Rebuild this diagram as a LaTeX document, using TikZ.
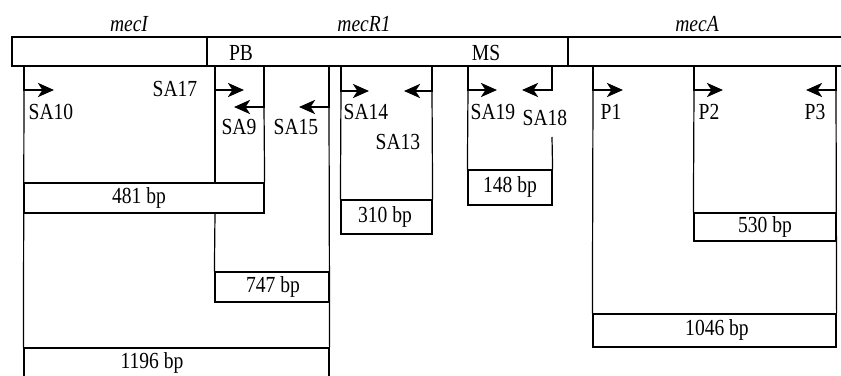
\documentclass[tikz,border=0pt]{standalone}
\usepackage{fontspec}
\setmainfont{Liberation Serif}[FakeStretch=0.85]
\usetikzlibrary{arrows.meta,fit}

\begin{document}
\begin{tikzpicture}[
  x=0.5pt, y=-0.5pt,
  font=\fontsize{11.5}{13}\selectfont,
  thin line/.style={draw,line width=0.6pt},
  site/.style={draw,line width=1.3pt,-{Stealth[length=8pt,width=7pt,inset=2.2pt]}},
  gene/.style={font=\fontsize{11.5}{13}\selectfont\itshape,inner sep=1pt},
  lab/.style={inner sep=1pt},
  bpbox/.style={draw,line width=0.6pt,inner sep=0pt},
]
\clip (0,0) rectangle (841,375);

% ---------- gene bar ----------
\node[draw,line width=0.6pt,inner sep=0pt,fit={(12,37)(207,66)}] (mecI) {};
\node[draw,line width=0.6pt,inner sep=0pt,fit={(207,37)(568,66)}] (mecR) {};
\node[draw,line width=0.6pt,inner sep=0pt,fit={(568,37)(860,66)}] (mecA) {};

\node[gene] (tI) at (129,24) {mecI};
\node[gene] (tR) at (364,24) {mecR1};
\node[gene] (tA) at (697,24) {mecA};
\node[lab]  (pb) at (241,53) {PB};
\node[lab]  (ms) at (486,53) {MS};

% ---------- product boxes ----------
\node[bpbox,fit={(24,183)(264,213)}]  (b481)  {};
\node[bpbox,fit={(215,272)(329,302)}] (b747)  {};
\node[bpbox,fit={(24,348)(329,385)}]  (b1196) {};
\node[bpbox,fit={(341,200)(432,234)}] (b310)  {};
\node[bpbox,fit={(468,170)(552,205)}] (b148)  {};
\node[bpbox,fit={(694,213)(836,241)}] (b530)  {};
\node[bpbox,fit={(593,314)(836,347)}] (b1046) {};

\node[lab] at (139,198) {481 bp};
\node[lab] at (273,287) {747 bp};
\node[lab] at (152,363) {1196 bp};
\node[lab] at (385,217) {310 bp};
\node[lab] at (510,187) {148 bp};
\node[lab] at (765,227) {530 bp};
\node[lab] at (717,330) {1046 bp};

% ---------- primer sites ----------
\coordinate (sa10) at (24,66);   \coordinate (sa10a) at (54,90);
\coordinate (sa17) at (215,66);  \coordinate (sa17a) at (244,90);
\coordinate (sa9)  at (264,66);  \coordinate (sa9a)  at (234,107);
\coordinate (sa15) at (329,66);  \coordinate (sa15a) at (299,107);
\coordinate (sa14) at (341,66);  \coordinate (sa14a) at (369,91);
\coordinate (sa13) at (432,66);  \coordinate (sa13a) at (404,91);
\coordinate (sa19) at (468,66);  \coordinate (sa19a) at (497,90);
\coordinate (sa18) at (552,66);  \coordinate (sa18a) at (522,90);
\coordinate (p1)   at (593,66);  \coordinate (p1a)   at (623,90);
\coordinate (p2)   at (694,66);  \coordinate (p2a)   at (723,90);
\coordinate (p3)   at (836,66);  \coordinate (p3a)   at (806,90);

\foreach \s in {sa10,sa17,sa9,sa15,sa14,sa13,sa19,sa18,p1,p2,p3}
  \draw[site] (\s) |- (\s a);

% thin lines down to the boxes
\draw[thin line] (sa10 |- sa10a) -- (b1196.north west);
\draw[thin line] (sa17 |- sa17a) -- (sa17 |- b481.north);
\draw[thin line] (sa17 |- b481.south) -- (b747.north west);
\draw[thin line] (sa9 |- sa9a) -- (b481.north east);
\draw[thin line] (sa15 |- sa15a) -- (b1196.north east);
\draw[thin line] (sa14 |- sa14a) -- (b310.north west);
\draw[thin line] (sa13 |- sa13a) -- (b310.north east);
\draw[thin line] (sa19 |- sa19a) -- (b148.north west);
\draw[thin line] (552,137) -- (b148.north east);
\draw[thin line] (p1 |- p1a) -- (b1046.north west);
\draw[thin line] (p2 |- p2a) -- (b530.north west);
\draw[thin line] (p3 |- p3a) -- (b1046.north east);

% ---------- site labels ----------
\node[lab] (l10) at (51,112)  {SA10};
\node[lab] (l17) at (175,89)  {SA17};
\node[lab] (l9)  at (239,127) {SA9};
\node[lab] (l15) at (296,127) {SA15};
\node[lab] (l14) at (366,112) {SA14};
\node[lab] (l13) at (398,142) {SA13};
\node[lab] (l19) at (493,112) {SA19};
\node[lab] (l18) at (545,118) {SA18};
\node[lab] (lp1) at (611,112) {P1};
\node[lab] (lp2) at (709,112) {P2};
\node[lab] (lp3) at (815,112) {P3};

\end{tikzpicture}
\end{document}
